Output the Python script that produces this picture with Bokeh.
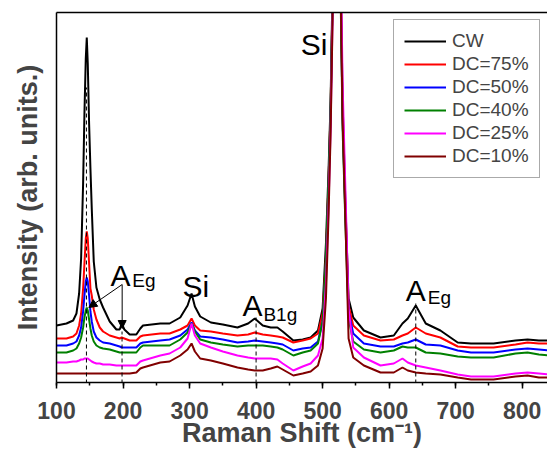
from bokeh.plotting import figure
from bokeh.models import Range1d, SingleIntervalTicker, FixedTicker, Arrow, NormalHead, LinearAxis
from bokeh.core.properties import value
from bokeh.embed import file_html
from bokeh.resources import INLINE

# ---------------- data ----------------
raman_shift = [100, 115, 125, 130, 134, 137, 140, 142, 144, 145.5, 147, 149, 151, 153, 156,
               160, 165, 170, 180, 190, 195, 198, 202, 210, 220, 226, 230, 256, 270, 286,
               297, 303, 308, 316, 332, 350, 372, 388, 398, 410, 422, 432, 440, 456, 470,
               482, 493, 500, 505, 509, 512, 515, 518, 521, 524, 527, 530, 534, 539, 546,
               562, 587, 607, 620, 628, 640, 655, 677, 703, 723, 757, 790, 808, 825, 840]

cw = [58, 60, 63, 70, 90, 125, 200, 270, 325, 346, 320, 260, 215, 175, 122,
      96, 84, 76, 62, 54, 54, 60, 54, 49, 49, 55, 58, 60, 60, 66,
      78, 90, 77, 67, 61, 59, 56, 60, 65, 58, 56, 56, 52, 43, 44,
      46, 53, 75, 140, 215, 283, 400, 800, 3000, 800, 420, 283, 185, 85, 66,
      53, 46, 48, 60, 65, 78, 60, 53, 41, 40, 40, 43, 44, 43, 43]

dc75 = [45, 45, 47, 50, 58, 70, 95, 120, 145, 152, 145, 120, 95, 88, 74,
        64, 56, 52, 48, 46, 45, 46, 45, 43, 43, 47, 48, 50, 50, 54,
        58, 65, 58, 53, 52, 50, 48, 49, 51, 49, 48, 47, 46, 41, 43,
        45, 50, 70, 125, 205, 275, 390, 790, 3000, 800, 410, 270, 180, 78, 58,
        48, 43, 44, 48, 50, 56, 50, 46, 37, 36, 36, 39, 41, 40, 40]

dc50 = [38, 38, 40, 42, 48, 56, 72, 88, 102, 106, 102, 88, 72, 62, 52,
        46, 43, 41, 40, 38, 37, 36, 36, 36, 36, 40, 41, 43, 44, 48,
        54, 61, 53, 47, 46, 44, 41, 42, 43, 42, 41, 40, 39, 33, 35,
        36, 42, 62, 120, 200, 270, 385, 780, 3000, 800, 400, 265, 175, 72, 50,
        40, 37, 37, 40, 41, 44, 39, 38, 33, 31, 31, 34, 35, 34, 33]

dc40 = [31, 31, 33, 35, 40, 46, 56, 66, 73, 76, 73, 64, 55, 48, 42,
        38, 36, 35, 34, 32, 31, 31, 31, 31, 31, 36, 38, 38, 38, 44,
        51, 60, 52, 44, 41, 39, 37, 38, 38, 38, 37, 36, 34, 28, 31,
        33, 40, 62, 125, 205, 275, 390, 790, 3000, 790, 390, 255, 165, 65, 42,
        34, 31, 33, 37, 36, 36, 31, 30, 27, 26, 26, 30, 31, 29, 28]

dc25 = [21, 21, 22, 22, 23, 24, 24, 25, 25, 25, 25, 24, 23, 22, 21,
        20, 20, 19, 19, 18, 18, 18, 18, 18, 18, 22, 23, 28, 30, 36,
        45, 60, 48, 40, 36, 32, 28, 26, 25, 25, 25, 24, 20, 13, 17,
        20, 28, 45, 100, 180, 255, 370, 760, 3000, 850, 440, 300, 200, 75, 36,
        26, 18, 20, 25, 21, 18, 16, 13, 9, 7, 7, 10, 11, 10, 9]

dc10 = [10, 10, 10, 10, 10, 10, 10, 10, 10, 10, 10, 10, 10, 10, 10,
        10, 10, 10, 10, 10, 10, 10, 10, 10, 11, 15, 16, 21, 22, 28,
        34, 40, 32, 25, 23, 20, 16, 14, 13, 13, 15, 17, 14, 8, 10,
        12, 18, 35, 85, 170, 250, 365, 750, 3000, 780, 400, 265, 170, 45, 26,
        18, 11, 11, 16, 13, 11, 10, 9, 6, 4, 4, 7, 8, 6, 6]

series_names = ["CW", "DC=75%", "DC=50%", "DC=40%", "DC=25%", "DC=10%"]
series_colors = ["#000000", "#FF0000", "#0000FF", "#008000", "#FF00FF", "#800000"]
series_values = [cw, dc75, dc50, dc40, dc25, dc10]

# mode marker (dashed) lines
mode_x = [145, 198.5, 400, 640]
mode_top = [296, 52, 66, 80]

# peak labels
main_labels = ["A", "Si", "A", "Si", "A"]
main_x = [181, 289.5, 379.5, 467, 625]
main_y = [108, 97, 78, 339, 93]
sub_labels = ["Eg", "B1g", "Eg"]
sub_x = [214, 411, 658]
sub_y = [103, 69, 86]

# arrows for the A_Eg label
arrow_start = (198.7, 99)
arrow_ends = [(148.6, 76), (198.7, 55)]

FONT = "Liberation Sans"

p = figure(width=547, height=453, output_backend="svg", toolbar_location=None,
           x_range=Range1d(100, 838), y_range=Range1d(1, 371),
           min_border_left=56, min_border_right=0, min_border_top=12, min_border_bottom=71)
p.xgrid.visible = False
p.ygrid.visible = False
p.outline_line_color = None

# spectra
for name, color, vals in zip(series_names, series_colors, series_values):
    p.line(raman_shift, vals, line_color=color, line_width=2, legend_label=name)

# dashed mode lines
p.segment(x0=mode_x, y0=[0] * len(mode_x), x1=mode_x, y1=mode_top,
          line_color="black", line_width=1, line_dash="4 3")

# labels
p.text(x=main_x, y=main_y, text=main_labels, text_font=value(FONT), text_font_size="30px",
       text_color="black", text_align="left", text_baseline="alphabetic")
p.text(x=sub_x, y=sub_y, text=sub_labels, text_font=value(FONT), text_font_size="19px",
       text_color="black", text_align="left", text_baseline="alphabetic")

for (xe, ye) in arrow_ends:
    p.add_layout(Arrow(end=NormalHead(size=8, fill_color="black", line_color="black", line_width=1),
                       x_start=arrow_start[0], y_start=arrow_start[1], x_end=xe, y_end=ye,
                       line_color="black", line_width=1))

# x axis
xa = p.xaxis[0]
xa.ticker = SingleIntervalTicker(interval=100, num_minor_ticks=2)
xa.axis_label = "Raman Shift (cm\u207b\u00b9)"
xa.axis_label_text_font = FONT
xa.axis_label_text_font_style = "bold"
xa.axis_label_text_font_size = "27px"
xa.axis_label_standoff = -4
xa.major_label_text_font = FONT
xa.major_label_text_font_style = "bold"
xa.major_label_text_font_size = "23px"
xa.major_label_standoff = 13
xa.major_tick_in = 0
xa.major_tick_out = 6
xa.minor_tick_in = 0
xa.minor_tick_out = 3
xa.axis_line_width = 1.5
xa.major_tick_line_width = 1.5
xa.minor_tick_line_width = 1.5

# top frame line
top_axis = LinearAxis(ticker=FixedTicker(ticks=[]), axis_line_width=1.5,
                      major_tick_line_color=None, minor_tick_line_color=None,
                      major_label_text_font_size="0px")
p.add_layout(top_axis, "above")

# y axis
ya = p.yaxis[0]
ya.ticker = FixedTicker(ticks=[])
ya.axis_label = "Intensity (arb. units.)"
ya.axis_label_text_font = FONT
ya.axis_label_text_font_style = "bold"
ya.axis_label_text_font_size = "27px"
ya.axis_label_standoff = 14
ya.axis_line_width = 1.5
ya.major_tick_line_color = None
ya.minor_tick_line_color = None

# legend
lg = p.legend[0]
lg.location = (337, 204)
lg.label_text_font = FONT
lg.label_text_font_size = "19px"
lg.glyph_width = 42
lg.glyph_height = 20
lg.label_height = 20
lg.label_standoff = 6
lg.spacing = 1
lg.padding = 10
lg.margin = 0
lg.border_line_color = "#555555"
lg.border_line_width = 1
lg.background_fill_color = "white"
lg.background_fill_alpha = 1

open("out.html", "w").write(file_html(p, INLINE))
